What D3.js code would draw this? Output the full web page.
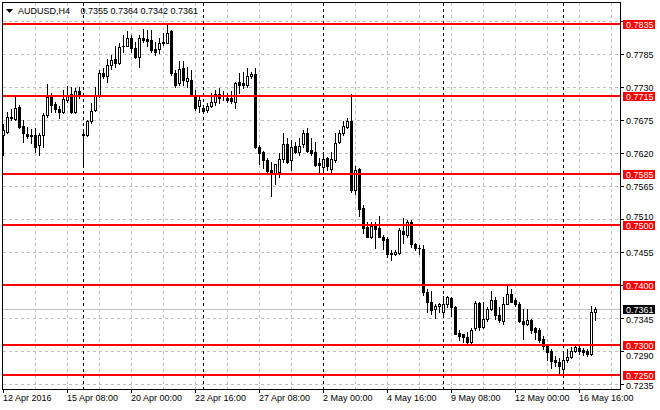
<!DOCTYPE html>
<html><head><meta charset="utf-8">
<script src="https://cdn.jsdelivr.net/npm/d3@7"></script>
<style>
html,body{margin:0;padding:0;background:#fff;}
svg{display:block;}
text{font-family:"Liberation Sans",Arial,sans-serif;font-size:9px;}
</style>
</head><body>
<svg id="chart" width="660" height="410"></svg>
<script>
const symbol = "AUDUSD,H4";
const open = [.7651,.7656,.7681,.7677,.7697,.7665,.7652,.7650,.7650,.7634,.7650,.7684,.7713,.7702,.7693,.7688,.7709,.7719,.7688,.7724,
.7652,.7651,.7673,.7692,.7716,.7753,.7748,.7767,.7777,.7770,.7798,.7799,.7812,.7795,.7781,.7812,.7810,.7809,.7793,.7793,
.7803,.7804,.7823,.7753,.7737,.7762,.7741,.7742,.7717,.7698,.7695,.7692,.7698,.7706,.7718,.7716,.7712,.7712,.7706,.7738,
.7737,.7734,.7748,.7752,.7630,.7623,.7609,.7592,.7587,.7589,.7611,.7636,.7609,.7632,.7623,.7635,.7654,.7626,.7623,.7604,
.7597,.7612,.7594,.7609,.7638,.7653,.7663,.7674,.7559,.7594,.7528,.7497,.7481,.7498,.7496,.7481,.7477,.7454,.7452,.7454,
.7491,.7484,.7506,.7468,.7463,.7461,.7389,.7372,.7361,.7366,.7355,.7369,.7379,.7364,.7320,.7318,.7314,.7305,.7328,.7370,
.7330,.7344,.7360,.7376,.7351,.7341,.7369,.7386,.7375,.7368,.7341,.7336,.7343,.7328,.7326,.7311,.7299,.7291,.7276,.7272,
.7261,.7275,.7280,.7290,.7296,.7293,.7290,.7286,.7355];
const high = [.7669,.7689,.7693,.7713,.7701,.7676,.7663,.7660,.7662,.7653,.7687,.7736,.7721,.7706,.7699,.7726,.7732,.7731,.7728,.7731,
.7659,.7676,.7704,.7731,.7759,.7762,.7777,.7784,.7798,.7803,.7817,.7823,.7817,.7806,.7817,.7827,.7826,.7826,.7806,.7812,
.7820,.7834,.7826,.7759,.7773,.7773,.7764,.7759,.7726,.7714,.7701,.7703,.7720,.7726,.7728,.7723,.7720,.7723,.7739,.7753,
.7756,.7762,.7756,.7762,.7634,.7624,.7612,.7606,.7603,.7620,.7653,.7645,.7642,.7639,.7645,.7659,.7662,.7645,.7639,.7612,
.7623,.7614,.7623,.7653,.7659,.7673,.7678,.7719,.7598,.7595,.7534,.7506,.7506,.7506,.7516,.7484,.7481,.7459,.7459,.7495,
.7512,.7509,.7509,.7470,.7467,.7467,.7394,.7390,.7368,.7370,.7383,.7383,.7380,.7365,.7325,.7319,.7322,.7329,.7374,.7372,
.7372,.7364,.7391,.7380,.7364,.7380,.7400,.7394,.7379,.7372,.7361,.7361,.7344,.7330,.7328,.7316,.7301,.7294,.7282,.7278,
.7289,.7294,.7297,.7303,.7301,.7295,.7294,.7365,.7364];
const low = [.7617,.7654,.7675,.7675,.7662,.7639,.7645,.7637,.7623,.7617,.7631,.7681,.7689,.7689,.7678,.7687,.7706,.7687,.7687,.7712,
.7601,.7649,.7670,.7691,.7714,.7745,.7739,.7760,.7764,.7769,.7788,.7798,.7789,.7778,.7764,.7806,.7798,.7789,.7784,.7787,
.7801,.7803,.7751,.7731,.7734,.7734,.7731,.7717,.7692,.7689,.7687,.7688,.7697,.7701,.7703,.7709,.7706,.7703,.7695,.7720,
.7728,.7731,.7745,.7628,.7603,.7595,.7587,.7548,.7569,.7581,.7606,.7604,.7592,.7620,.7617,.7631,.7623,.7617,.7599,.7587,
.7587,.7592,.7589,.7606,.7637,.7651,.7662,.7556,.7553,.7516,.7487,.7480,.7478,.7463,.7480,.7460,.7447,.7443,.7450,.7453,
.7470,.7481,.7464,.7459,.7453,.7384,.7355,.7353,.7345,.7355,.7353,.7364,.7349,.7318,.7308,.7306,.7303,.7304,.7325,.7326,
.7329,.7341,.7358,.7344,.7338,.7336,.7368,.7372,.7366,.7339,.7311,.7334,.7321,.7311,.7306,.7294,.7275,.7262,.7266,.7254,
.7250,.7273,.7278,.7289,.7286,.7284,.7282,.7284,.7342];
const close = [.7659,.7681,.7678,.7695,.7663,.7653,.7649,.7648,.7631,.7650,.7684,.7713,.7701,.7693,.7688,.7710,.7716,.7688,.7723,.7719,
.7650,.7673,.7691,.7716,.7753,.7748,.7767,.7776,.7771,.7797,.7799,.7812,.7795,.7781,.7812,.7809,.7807,.7792,.7789,.7803,
.7806,.7821,.7753,.7734,.7760,.7742,.7745,.7719,.7695,.7709,.7691,.7698,.7705,.7718,.7712,.7715,.7709,.7707,.7737,.7734,
.7734,.7748,.7752,.7631,.7621,.7608,.7591,.7587,.7602,.7611,.7635,.7606,.7631,.7623,.7633,.7654,.7624,.7620,.7601,.7601,
.7610,.7598,.7610,.7637,.7654,.7666,.7674,.7559,.7592,.7527,.7495,.7481,.7498,.7494,.7481,.7476,.7453,.7452,.7456,.7492,
.7485,.7506,.7468,.7462,.7462,.7388,.7372,.7358,.7365,.7368,.7368,.7380,.7364,.7319,.7315,.7314,.7305,.7326,.7371,.7330,
.7344,.7360,.7376,.7350,.7343,.7368,.7385,.7373,.7368,.7340,.7336,.7343,.7326,.7323,.7308,.7299,.7289,.7274,.7273,.7266,
.7276,.7280,.7291,.7297,.7290,.7288,.7286,.7355,.7361];
const levels = [0.7835, 0.7715, 0.7585, 0.7500, 0.7400, 0.7300, 0.7250];
const priceTicks = [0.7840, 0.7785, 0.7730, 0.7675, 0.7620, 0.7565, 0.7510, 0.7455, 0.7400, 0.7345, 0.7290, 0.7235];
const timeLabels = ["12 Apr 2016","15 Apr 08:00","20 Apr 00:00","22 Apr 16:00","27 Apr 08:00","2 May 00:00","4 May 16:00","9 May 08:00","12 May 00:00","16 May 16:00"];
const weekStartBars = [20, 50, 80, 110, 140];
const labelEvery = 16, gridEvery = 8;

const svg = d3.select("#chart");
const L = 2, R = 620, T = 2, B = 389;
const x = d3.scaleLinear().domain([0, 150]).range([3, 603]);
const y = d3.scaleLinear().domain([0.7835, 0.7250]).range([24.3, 375.3]);
const ry = v => Math.round(y(v));
const n = close.length;
const last = n - 1;
const fmt = d3.format(".4f");

svg.append("rect").attr("width",660).attr("height",410).attr("fill","#fff");

// grid
const g = svg.append("g");
priceTicks.forEach(t => {
  g.append("line").attr("x1",L+1).attr("x2",R).attr("y1",ry(t)+0.5).attr("y2",ry(t)+0.5)
   .attr("stroke","#c0c0c0").attr("stroke-dasharray","3,3");
});
d3.range(gridEvery, 156, gridEvery).forEach(i => {
  g.append("line").attr("x1",x(i)+0.5).attr("x2",x(i)+0.5).attr("y1",T+1).attr("y2",B)
   .attr("stroke","#c0c0c0").attr("stroke-dasharray","3,3");
});
weekStartBars.forEach(i => {
  g.append("line").attr("x1",x(i)+0.5).attr("x2",x(i)+0.5).attr("y1",T+1).attr("y2",B)
   .attr("stroke","#000").attr("stroke-dasharray","3,3");
});

// bid line
svg.append("line").attr("x1",L+1).attr("x2",R).attr("y1",ry(close[last])+0.5).attr("y2",ry(close[last])+0.5)
  .attr("stroke","#c0c0c0");

// candles
const cg = svg.append("g");
d3.range(n).forEach(i => {
  const xi = x(i);
  const yh = ry(high[i]), yl = ry(low[i]);
  const yo = ry(open[i]), yc = ry(close[i]);
  cg.append("rect").attr("x",xi).attr("y",yh).attr("width",1).attr("height",yl-yh+1).attr("fill","#000");
  const top = Math.min(yo,yc), bot = Math.max(yo,yc);
  if (close[i] > open[i] && bot - top >= 2) {
    cg.append("rect").attr("x",xi-0.5).attr("y",top+0.5).attr("width",2).attr("height",bot-top)
      .attr("fill","#fff").attr("stroke","#000").attr("stroke-width",1);
  } else {
    cg.append("rect").attr("x",xi-1).attr("y",top).attr("width",3).attr("height",Math.max(bot-top,1)+(bot-top>0?1:0))
      .attr("fill","#000");
  }
});

// support / resistance lines
levels.forEach(l => {
  svg.append("rect").attr("x",L+1).attr("y",ry(l)-1).attr("width",R-L-1).attr("height",2).attr("fill","#ff0000");
});

// frame
svg.append("line").attr("x1",L+0.5).attr("x2",L+0.5).attr("y1",T).attr("y2",B+1).attr("stroke","#000");
svg.append("line").attr("x1",L).attr("x2",R+1).attr("y1",T+0.5).attr("y2",T+0.5).attr("stroke","#000");
svg.append("line").attr("x1",R+0.5).attr("x2",R+0.5).attr("y1",T).attr("y2",B+1).attr("stroke","#000");
svg.append("line").attr("x1",L).attr("x2",R+1).attr("y1",B+0.5).attr("y2",B+0.5).attr("stroke","#000");

// right axis labels (tick labels give way to the price tags, as in the terminal)
const tagValues = levels.concat([close[last]]);
priceTicks.forEach(t => {
  const yy = ry(t);
  svg.append("line").attr("x1",R+1).attr("x2",R+4).attr("y1",yy+0.5).attr("y2",yy+0.5).attr("stroke","#000");
  let base = yy + 4;
  let hidden = false;
  tagValues.forEach(v => {
    const ty = ry(v);
    const d = yy - ty;
    if (Math.abs(d) <= 4) hidden = true;
    else if (d < 0 && d > -11) base = Math.min(base, ty - 5);
    else if (d > 0 && d < 11) base = Math.max(base, ty + 14);
  });
  if (!hidden) svg.append("text").attr("x",626).attr("y",base).attr("fill","#000").text(fmt(t));
});
function tag(v, bg) {
  const yy = ry(v);
  svg.append("rect").attr("x",623).attr("y",yy-4).attr("width",32).attr("height",9).attr("fill",bg);
  svg.append("text").attr("x",626).attr("y",yy+4).attr("fill","#fff").text(fmt(v));
}
levels.forEach(l => tag(l, "#ff0000"));
tag(close[last], "#000");

// bottom axis labels
timeLabels.forEach((lab, k) => {
  const xi = x(k * labelEvery);
  svg.append("line").attr("x1",xi+0.5).attr("x2",xi+0.5).attr("y1",B+1).attr("y2",B+4).attr("stroke","#000");
  svg.append("text").attr("x",xi).attr("y",401).attr("fill","#000").text(lab);
});

// title
svg.append("path").attr("d","M6,9L13,9L9.5,13Z").attr("fill","#000");
svg.append("text").attr("x",18).attr("y",14).attr("fill","#000").text(symbol);
svg.append("text").attr("x",80.5).attr("y",14).attr("fill","#000")
  .text([open[last], high[last], low[last], close[last]].map(fmt).join(" "));
</script>
</body></html>
